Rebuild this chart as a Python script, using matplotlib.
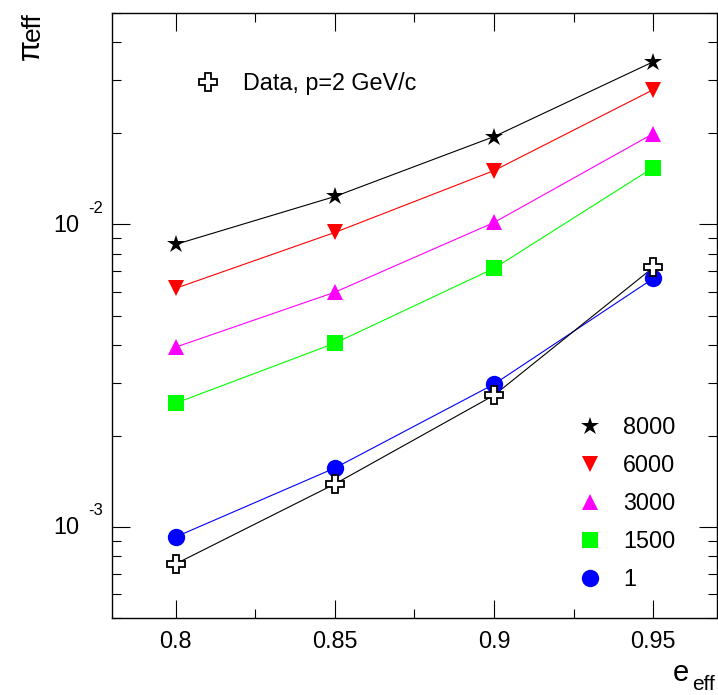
import matplotlib
matplotlib.use("Agg")
import matplotlib.pyplot as plt
from matplotlib.lines import Line2D
from matplotlib.ticker import MultipleLocator, LogLocator, NullFormatter, FixedLocator

plt.rcParams['font.family'] = ['Liberation Sans', 'DejaVu Sans']

# electron efficiency points
e_eff = [0.80, 0.85, 0.90, 0.95]

# pion efficiency for each setting
series_labels = ['8000', '6000', '3000', '1500', '1']
pi_8000 = [0.00859, 0.01237, 0.01952, 0.0345]
pi_6000 = [0.00615, 0.00941, 0.01507, 0.0279]
pi_3000 = [0.00393, 0.00597, 0.01015, 0.01997]
pi_1500 = [0.002566, 0.00405, 0.00716, 0.01542]
pi_1 = [0.000927, 0.001566, 0.002965, 0.00663]

# measured data, p = 2 GeV/c
pi_data = [0.000755, 0.001387, 0.002726, 0.00721]
data_label = 'Data, p=2 GeV/c'

major_y = [1e-3, 1e-2]
exponents = ['-3', '-2']

series = [pi_8000, pi_6000, pi_3000, pi_1500, pi_1]
colors = ['black', '#ff0000', '#ff00ff', '#00ff00', '#0000ff']
markers = ['*', 'v', '^', 's', 'o']
msizes = [13.5, 12, 12, 11.5, 12.5]

W, H = 718, 695
fig = plt.figure(figsize=(W / 100, H / 100), dpi=100)
ax = fig.add_axes([112 / W, (H - 618) / H, 605 / W, 605 / H])

handles = []
for vals, c, m, ms, lab in zip(series, colors, markers, msizes, series_labels):
    ax.plot(e_eff, vals, color=c, lw=0.8, zorder=2)
    ax.plot(e_eff, vals, ls='none', marker=m, ms=ms, color=c, mew=0, zorder=3)
    handles.append(Line2D([], [], ls='none', marker=m, ms=ms, color=c, mew=0, label=lab))

ax.plot(e_eff, pi_data, color='black', lw=0.8, zorder=2)
ax.plot(e_eff, pi_data, ls='none', marker='P', ms=13, mfc='white', mec='black',
        mew=1.3, zorder=4)
data_handle = Line2D([], [], ls='none', marker='P', ms=13, mfc='white', mec='black',
                     mew=1.3, label=data_label)

ax.set_yscale('log')
ax.set_xlim(0.78, 0.97)
ax.set_ylim(5e-4, 5e-2)

ax.xaxis.set_major_locator(FixedLocator(e_eff))
ax.xaxis.set_minor_locator(MultipleLocator(0.025))
ax.set_xticklabels(['0.8', '0.85', '0.9', '0.95'])
ax.yaxis.set_major_locator(FixedLocator(major_y))
ax.yaxis.set_minor_locator(LogLocator(base=10, subs=range(2, 10)))
ax.yaxis.set_major_formatter(NullFormatter())
ax.yaxis.set_minor_formatter(NullFormatter())

ax.tick_params(which='both', direction='in', top=True, right=True, width=0.8)
ax.tick_params(which='major', length=13)
ax.tick_params(which='minor', length=6.5)
ax.tick_params(axis='x', labelsize=16.8, pad=8.5)
for s in ax.spines.values():
    s.set_linewidth(1.0)

# ROOT style "10^-n" labels
ytr = ax.get_yaxis_transform()
for v, ex in zip(major_y, exponents):
    ax.annotate('10', xy=(0, v), xycoords=ytr, xytext=(-33, -1),
                textcoords='offset pixels', ha='right', va='center', fontsize=16.8)
    ax.annotate(ex, xy=(0, v), xycoords=ytr, xytext=(-24, 16),
                textcoords='offset pixels', ha='left', va='center', fontsize=12)

# axis titles
fig.text(673 / W, (H - 681) / H, 'e', fontsize=21, ha='left', va='baseline')
fig.text(692 / W, (H - 690) / H, 'eff', fontsize=15, ha='left', va='baseline')
fig.text(39 / W, (H - 60) / H, 'π', fontsize=22, rotation=90,
         rotation_mode='anchor', ha='left', va='baseline')
fig.text(40 / W, (H - 41) / H, 'eff', fontsize=19, rotation=90,
         rotation_mode='anchor', ha='left', va='baseline')

leg1 = ax.legend(handles=[data_handle], loc='upper left', bbox_to_anchor=(0.1395, 0.9017),
                 frameon=False, fontsize=16.8, borderpad=0, borderaxespad=0,
                 handlelength=1.0, handletextpad=1.0)
ax.add_artist(leg1)
ax.legend(handles=handles, loc='upper left', bbox_to_anchor=(0.771, 0.3343),
          frameon=False, fontsize=16.8, borderpad=0, borderaxespad=0,
          handlelength=1.0, handletextpad=0.92, labelspacing=0.65)

fig.savefig('out.png', dpi=100)
